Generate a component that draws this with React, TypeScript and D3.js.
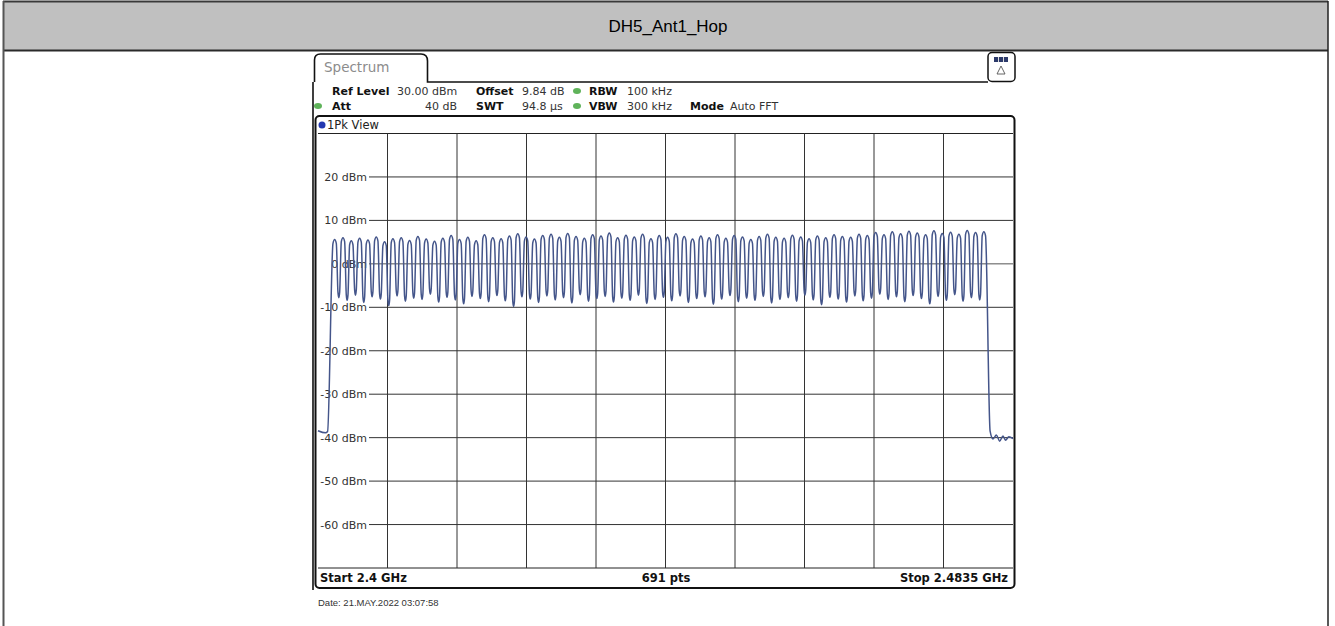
import React from 'react';
import * as d3 from 'd3';

// analyzer settings (span in MHz, level in dBm)
const spanStartMHz = 2400;
const spanStopMHz = 2483.5;
const refLevelDbm = 30;
const bottomLevelDbm = -70;
const yTickValues = [20, 10, 0, -10, -20, -30, -40, -50, -60];
const xDivisions = [1, 2, 3, 4, 5, 6, 7, 8, 9];

// hopping channels 2402..2480 MHz, 1 MHz apart
const firstChannelMHz = 2402;
const channelPeaksDbm = [
  5.6, 6.0, 5.3, 5.9, 5.5, 6.2, 5.1, 5.8, 6.0, 5.4,
  6.3, 5.7, 5.2, 5.9, 6.5, 5.6, 6.1, 5.3, 6.7, 6.0,
  5.8, 6.4, 6.9, 6.2, 5.7, 6.5, 6.8, 6.1, 7.0, 6.3,
  5.9, 6.7, 6.4, 7.1, 6.0, 6.6, 6.2, 6.8, 5.8, 6.5,
  6.1, 6.9, 6.3, 5.7, 6.4, 6.0, 6.7, 5.9, 6.5, 6.2,
  5.6, 6.3, 6.8, 6.1, 5.9, 6.6, 6.2, 5.8, 6.4, 6.0,
  6.7, 6.3, 6.1, 6.8, 6.5, 7.2, 6.7, 7.4, 6.9, 7.5,
  7.1, 6.7, 7.6, 7.0, 7.3, 6.8, 7.7, 7.2, 7.4,
];
const channelTroughsDbm = [
  -7.8, -8.4, -7.2, -8.9, -7.6, -8.1, -9.6, -7.4, -8.6, -7.9,
  -8.2, -7.0, -8.8, -7.7, -8.3, -9.2, -7.5, -8.0, -8.7, -7.3,
  -8.5, -9.8, -7.6, -8.1, -8.9, -7.4, -8.3, -7.8, -9.0, -7.1,
  -8.6, -8.0, -7.5, -8.8, -7.9, -8.4, -7.2, -9.1, -8.2, -7.7,
  -8.5, -7.4, -8.9, -8.0, -7.6, -9.3, -8.1, -7.3, -8.7, -7.9,
  -8.4, -7.5, -9.0, -8.2, -7.8, -8.6, -7.2, -8.3, -9.4, -7.7,
  -8.1, -8.8, -7.4, -8.5, -7.9, -7.0, -8.2, -7.6, -8.7, -7.3,
  -8.0, -9.2, -7.5, -8.4, -7.1, -8.6, -7.8, -8.3,
];
// band edges, outside the hopping channels
const leftEdgeMHz = [2400, 2400.9, 2401.15];
const leftEdgeDbm = [-38.4, -38.9, -38.6];
const rightEdgeMHz = [2480.75, 2481.1, 2481.5, 2481.9, 2482.3, 2482.6, 2483.0, 2483.5];
const rightEdgeDbm = [-38.5, -40.3, -39.4, -40.8, -39.6, -40.6, -39.8, -40.2];

const infoRow1 = [
  { text: 'Ref Level', x: 332, bold: true },
  { text: '30.00 dBm', x: 397, bold: false },
  { text: 'Offset', x: 476, bold: true },
  { text: '9.84 dB', x: 522, bold: false },
  { text: 'RBW', x: 589, bold: true },
  { text: '100 kHz', x: 627, bold: false },
];
const infoRow2 = [
  { text: 'Att', x: 332, bold: true },
  { text: 'SWT', x: 476, bold: true },
  { text: '94.8 µs', x: 522, bold: false },
  { text: 'VBW', x: 589, bold: true },
  { text: '300 kHz', x: 627, bold: false },
  { text: 'Mode', x: 690, bold: true },
  { text: 'Auto FFT', x: 730, bold: false },
];

const W = 1335;
const H = 626;
const plot = { left: 318, right: 1013, top: 133.5, bottom: 568 };
const instrFont = 'DejaVu Sans, Verdana, sans-serif';

export default function App() {
  const x = d3.scaleLinear().domain([spanStartMHz, spanStopMHz]).range([plot.left, plot.right]);
  const y = d3.scaleLinear().domain([bottomLevelDbm, refLevelDbm]).range([plot.bottom, plot.top]);
  const divW = (plot.right - plot.left) / 10;

  // build trace: rounded channel tops, rounded dips between channels
  const pts: [number, number][] = [];
  leftEdgeMHz.forEach((f, i) => pts.push([f, leftEdgeDbm[i]]));
  channelPeaksDbm.forEach((p, i) => {
    const f = firstChannelMHz + i;
    pts.push([f - 0.2, p - 0.9]);
    pts.push([f, p]);
    pts.push([f + 0.2, p - 0.9]);
    if (i < channelTroughsDbm.length) {
      const t = channelTroughsDbm[i];
      pts.push([f + 0.4, t + 1.2]);
      pts.push([f + 0.5, t]);
      pts.push([f + 0.6, t + 1.2]);
    }
  });
  rightEdgeMHz.forEach((f, i) => pts.push([f, rightEdgeDbm[i]]));

  const line = d3.line<[number, number]>()
    .x(d => x(d[0]))
    .y(d => y(d[1]))
    .curve(d3.curveMonotoneX);

  const green = '#5fb35a';

  return (
    <svg width={W} height={H} style={{ position: 'absolute', left: 0, top: 0, background: '#fff' }}>
      {/* outer page frame and title bar */}
      <rect x={3} y={1.5} width={1325} height={49} fill="#c0c0c0" />
      <line x1={3} y1={1.5} x2={1328} y2={1.5} stroke="#3a3a3a" strokeWidth={2} />
      <line x1={3} y1={50.5} x2={1328} y2={50.5} stroke="#2a2a2a" strokeWidth={2} />
      <line x1={3.5} y1={1} x2={3.5} y2={H} stroke="#555" strokeWidth={2} />
      <line x1={1328} y1={1} x2={1328} y2={H} stroke="#222" strokeWidth={1.5} />
      <text x={668} y={32} textAnchor="middle" fontFamily="Liberation Sans, Arial, sans-serif" fontSize={17} fill="#000">
        DH5_Ant1_Hop
      </text>

      {/* spectrum window tab */}
      <path d="M313,590 L313,82 M314.5,82 L314.5,60 Q314.5,54 320.5,54 L421,54 Q427.5,54 427.5,61 L427.5,82 L988,82"
        fill="none" stroke="#111" strokeWidth={1.6} />
      <text x={324} y={72} fontFamily={instrFont} fontSize={13.5} fill="#8c8c8c">Spectrum</text>

      {/* top-right icon */}
      <rect x={988} y={52.5} width={27} height={29} rx={4} fill="#fff" stroke="#111" strokeWidth={1.5} />
      <rect x={994} y={57} width={14} height={5} fill="#2c3a6a" />
      <line x1={998.5} y1={57} x2={998.5} y2={62} stroke="#ddd" strokeWidth={1} />
      <line x1={1003.5} y1={57} x2={1003.5} y2={62} stroke="#ddd" strokeWidth={1} />
      <path d="M1001,66 L1005,74 L997,74 Z" fill="none" stroke="#555" strokeWidth={0.9} />

      {/* settings */}
      {infoRow1.map((d, i) => (
        <text key={'r1' + i} x={d.x} y={95} fontFamily={instrFont} fontSize={11} fontWeight={d.bold ? 'bold' : 'normal'}
          fill={d.bold ? '#111' : '#333'}>{d.text}</text>
      ))}
      {infoRow2.map((d, i) => (
        <text key={'r2' + i} x={d.x} y={110} fontFamily={instrFont} fontSize={11} fontWeight={d.bold ? 'bold' : 'normal'}
          fill={d.bold ? '#111' : '#333'}>{d.text}</text>
      ))}
      <text x={457} y={110} textAnchor="end" fontFamily={instrFont} fontSize={11} fill="#333">40 dB</text>
      <ellipse cx={577} cy={91} rx={4} ry={3} fill={green} />
      <ellipse cx={577} cy={106} rx={4} ry={3} fill={green} />
      <ellipse cx={318} cy={106} rx={4} ry={3} fill={green} />

      {/* diagram frame */}
      <rect x={315.5} y={116} width={699} height={472} rx={4} fill="#fff" stroke="#111" strokeWidth={2} />
      <circle cx={322} cy={125} r={3.5} fill="#2438b0" />
      <text x={327} y={129} fontFamily={instrFont} fontSize={11.5} fill="#222">1Pk View</text>

      {/* grid */}
      <line x1={plot.left} y1={plot.top} x2={plot.right} y2={plot.top} stroke="#222" strokeWidth={1} />
      <line x1={plot.left} y1={plot.bottom} x2={plot.right} y2={plot.bottom} stroke="#222" strokeWidth={1} />
      {xDivisions.map(i => (
        <line key={'v' + i} x1={plot.left + i * divW} y1={plot.top} x2={plot.left + i * divW} y2={plot.bottom}
          stroke="#333" strokeWidth={1} />
      ))}
      {yTickValues.map(v => (
        <g key={'h' + v}>
          <line x1={369} y1={y(v)} x2={plot.right} y2={y(v)} stroke={v === 0 ? '#555' : '#333'} strokeWidth={1} />
          <text x={367} y={y(v) + 4} textAnchor="end" fontFamily={instrFont} fontSize={11} fill="#333">{v} dBm</text>
        </g>
      ))}

      {/* trace */}
      <path d={line(pts) ?? ''} fill="none" stroke="#44558a" strokeWidth={1.5} strokeLinejoin="round" />

      {/* bottom bar */}
      <text x={320} y={582} fontFamily={instrFont} fontSize={11.5} fontWeight="bold" fill="#111">Start 2.4 GHz</text>
      <text x={666} y={582} textAnchor="middle" fontFamily={instrFont} fontSize={11.5} fontWeight="bold" fill="#111">691 pts</text>
      <text x={1008} y={582} textAnchor="end" fontFamily={instrFont} fontSize={11.5} fontWeight="bold" fill="#111">Stop 2.4835 GHz</text>

      <text x={318} y={606} fontFamily="Liberation Sans, Arial, sans-serif" fontSize={9.5} fill="#333">
        Date: 21.MAY.2022  03:07:58
      </text>
    </svg>
  );
}
